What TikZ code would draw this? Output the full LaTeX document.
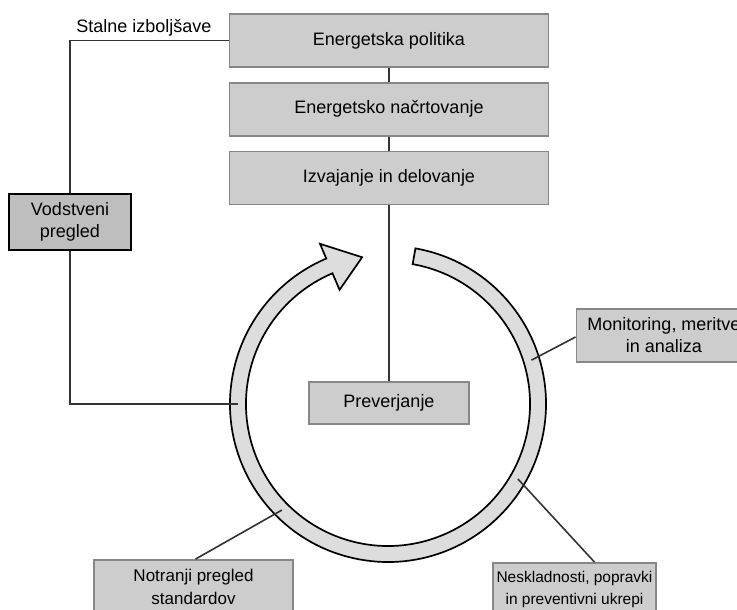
\documentclass[tikz,border=0pt]{standalone}
\usepackage{fontspec}
\setmainfont{Liberation Sans}
\usetikzlibrary{calc,positioning}
\definecolor{boxgray}{RGB}{205,205,205}
\definecolor{ringgray}{RGB}{221,221,221}
\definecolor{darkbox}{RGB}{190,190,190}
\definecolor{edgegray}{RGB}{135,135,135}

\begin{document}
\begin{tikzpicture}[x=1pt,y=1pt]
	\clip (0,0) rectangle (737,610);
	\tikzstyle{stage} = [draw=edgegray, line width=1.8pt, fill=boxgray, minimum width=319pt, minimum height=53pt, inner sep=0pt, font=\fontsize{18}{21}\selectfont]
	\tikzstyle{note} = [draw=edgegray, line width=1.8pt, fill=boxgray, align=center, inner sep=0pt, font=\fontsize{18}{22}\selectfont]
	\tikzstyle{link} = [draw=black!80, line width=1.6pt]
	\tikzstyle{ring} = [fill=ringgray, draw=black, line width=1.7pt]
	\coordinate (O) at (388,206);
	\filldraw[ring] ($(O)+(80:158)$) arc[start angle=80, end angle=-247, radius=158]
		-- ($(O)+(113:174)$) -- ($(O)+(100:149)$) -- ($(O)+(113:124)$)
		-- ($(O)+(113:142)$) arc[start angle=-247, end angle=80, radius=142] -- cycle;
	\coordinate (rmon) at ($(O)+(17:150)$);
	\coordinate (rnesk) at ($(O)+(-30:150)$);
	\coordinate (rnotr) at ($(O)+(225:150)$);
	\coordinate (rvod) at ($(O)+(180:150)$);
	\node[stage] (pol) at (389,569.5) {Energetska politika};
	\node[stage, below=14pt of pol] (nac) {Energetsko načrtovanje};
	\node[stage, below=14pt of nac] (izv) {Izvajanje in delovanje};
	\node[note, minimum width=160pt, minimum height=42pt] (prev) at (389,207) {Preverjanje};
	\node[note, fill=darkbox, draw=black, minimum width=122pt, minimum height=56pt] (vod) at (70,388) {Vodstveni\\pregled};
	\node[note, minimum width=175pt, minimum height=53pt] (mon) at (664,274.5) {Monitoring, meritve\\in analiza};
	\node[note, minimum width=199pt, minimum height=54pt, font=\fontsize{17}{23}\selectfont] (notr) at (193.5,23) {Notranji pregled\\standardov};
	\node[note, minimum width=163pt, minimum height=52pt, font=\fontsize{15.5}{22}\selectfont] (nesk) at (574.5,21) {Neskladnosti, popravki\\in preventivni ukrepi};
	\node[anchor=base, font=\fontsize{18}{21}\selectfont] (lbl) at (144,577) {Stalne izboljšave};
	\draw[link] (pol) -- (nac);
	\draw[link] (nac) -- (izv);
	\draw[link] (izv) -- (prev);
	\draw[link] (pol.west) -| (vod.north);
	\draw[link] (vod.south) |- (rvod);
	\draw[link] ([yshift=-1.5pt]mon.west) -- (rmon);
	\draw[link] ([xshift=20pt]nesk.north) -- (rnesk);
	\draw[link] ([xshift=2pt]notr.north) -- (rnotr);
\end{tikzpicture}
\end{document}
